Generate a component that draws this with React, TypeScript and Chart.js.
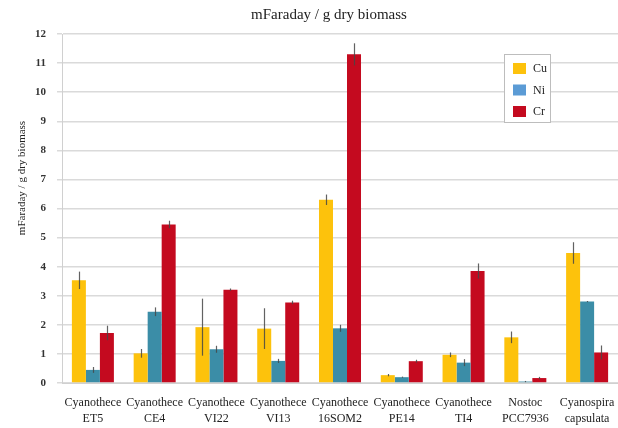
import React, { useEffect, useRef } from "react";
import { Chart, registerables } from "chart.js";

Chart.register(...registerables);

const categories: string[][] = [
  ["Cyanothece", "ET5"],
  ["Cyanothece", "CE4"],
  ["Cyanothece", "VI22"],
  ["Cyanothece", "VI13"],
  ["Cyanothece", "16SOM2"],
  ["Cyanothece", "PE14"],
  ["Cyanothece", "TI4"],
  ["Nostoc", "PCC7936"],
  ["Cyanospira", "capsulata"],
];

const cuValues = [3.53, 1.02, 1.92, 1.87, 6.3, 0.27, 0.97, 1.57, 4.47];
const cuErrors = [0.3, 0.15, 0.98, 0.7, 0.18, 0.04, 0.08, 0.2, 0.37];
const niValues = [0.45, 2.45, 1.16, 0.76, 1.88, 0.2, 0.7, 0.05, 2.8];
const niErrors = [0.1, 0.15, 0.12, 0.07, 0.12, 0.02, 0.12, 0.02, 0.02];
const crValues = [1.72, 5.45, 3.21, 2.77, 11.3, 0.75, 3.85, 0.17, 1.05];
const crErrors = [0.25, 0.13, 0.04, 0.06, 0.38, 0.05, 0.26, 0.04, 0.24];

const seriesNames = ["Cu", "Ni", "Cr"];
const yTicks = [0, 1, 2, 3, 4, 5, 6, 7, 8, 9, 10, 11, 12];

const titleText = "mFaraday / g dry biomass";
const yTitleText = "mFaraday / g dry biomass";

const barColors = ["#FDC20C", "#3B8DA7", "#C40A1F"];
const legendColors = ["#FDC20C", "#5B9BD5", "#C40A1F"];
const errorsBySeries = [cuErrors, niErrors, crErrors];

const FONT = "'Liberation Serif', 'DejaVu Serif', serif";

const errorBarPlugin = {
  id: "errorBars",
  afterDatasetsDraw(chart: any) {
    const ctx = chart.ctx;
    const yScale = chart.scales.y;
    ctx.save();
    ctx.strokeStyle = "rgba(70,70,70,0.85)";
    ctx.lineWidth = 1.2;
    chart.data.datasets.forEach((ds: any, i: number) => {
      const meta = chart.getDatasetMeta(i);
      const errs = errorsBySeries[i];
      meta.data.forEach((el: any, j: number) => {
        const v = ds.data[j];
        const e = errs[j];
        const yTop = yScale.getPixelForValue(v + e);
        const yBot = yScale.getPixelForValue(Math.max(0, v - e));
        const x = Math.round(el.x) + 0.5;
        ctx.beginPath();
        ctx.moveTo(x, yTop);
        ctx.lineTo(x, yBot);
        ctx.stroke();
      });
    });
    ctx.restore();
  },
};

const decorPlugin = {
  id: "decor",
  afterDraw(chart: any) {
    const ctx = chart.ctx;
    ctx.save();
    // Title
    ctx.fillStyle = "#222";
    ctx.font = `15px ${FONT}`;
    ctx.textAlign = "center";
    ctx.textBaseline = "middle";
    ctx.fillText(titleText, 329, 15);
    // Y title
    ctx.save();
    ctx.translate(22, 178);
    ctx.rotate(-Math.PI / 2);
    ctx.font = `11px ${FONT}`;
    ctx.fillText(yTitleText, 0, 0);
    ctx.restore();
    // Legend
    ctx.fillStyle = "#ffffff";
    ctx.fillRect(504.5, 54.5, 46, 68);
    ctx.strokeStyle = "#bdbdbd";
    ctx.lineWidth = 1;
    ctx.strokeRect(504.5, 54.5, 46, 68);
    const ys = [63, 84.5, 106];
    seriesNames.forEach((name, i) => {
      ctx.fillStyle = legendColors[i];
      ctx.fillRect(513, ys[i], 13, 11);
      ctx.fillStyle = "#222";
      ctx.font = `12px ${FONT}`;
      ctx.textAlign = "left";
      ctx.textBaseline = "middle";
      ctx.fillText(name, 533, ys[i] + 6);
    });
    ctx.restore();
  },
};

export default function App() {
  const ref = useRef<HTMLCanvasElement | null>(null);
  useEffect(() => {
    if (!ref.current) return;
    const chart = new Chart(ref.current, {
      type: "bar",
      data: {
        labels: categories as any,
        datasets: seriesNames.map((name, i) => ({
          label: name,
          data: [cuValues, niValues, crValues][i],
          backgroundColor: barColors[i],
          borderWidth: 0,
          categoryPercentage: 0.68,
          barPercentage: 1.0,
        })),
      },
      options: {
        responsive: false,
        animation: false,
        layout: { padding: { top: 34, left: 0, right: 0, bottom: 0 } },
        plugins: {
          legend: { display: false },
          title: { display: false },
          tooltip: { enabled: false },
        },
        scales: {
          x: {
            grid: { display: false, drawTicks: false, tickLength: 0 },
            border: { display: true, color: "#d0d0d0", width: 1 },
            ticks: {
              color: "#222",
              font: { family: FONT, size: 12, lineHeight: 1.4 },
              padding: 11,
              maxRotation: 0,
              autoSkip: false,
            },
            afterFit(scale: any) {
              scale.height = 45;
              scale.paddingLeft = 0;
              scale.paddingRight = 0;
            },
          },
          y: {
            min: 0,
            max: 12,
            afterBuildTicks(scale: any) {
              scale.ticks = yTicks.map((v) => ({ value: v }));
            },
            grid: { color: "#dadada", lineWidth: 1.5, tickLength: 5 },
            border: { display: true, color: "#d0d0d0", width: 1 },
            ticks: {
              color: "#333",
              font: { family: FONT, size: 11, weight: "bold" },
              padding: 11,
            },
            afterFit(scale: any) {
              scale.width = 62;
            },
          },
        },
      },
      plugins: [errorBarPlugin, decorPlugin],
    });
    return () => chart.destroy();
  }, []);
  return (
    <div style={{ position: "absolute", left: 0, top: 0, width: 618, height: 428, overflow: "hidden", background: "#fff" }}>
      <canvas ref={ref} width={618} height={428} style={{ display: "block", width: 618, height: 428 }} />
    </div>
  );
}
